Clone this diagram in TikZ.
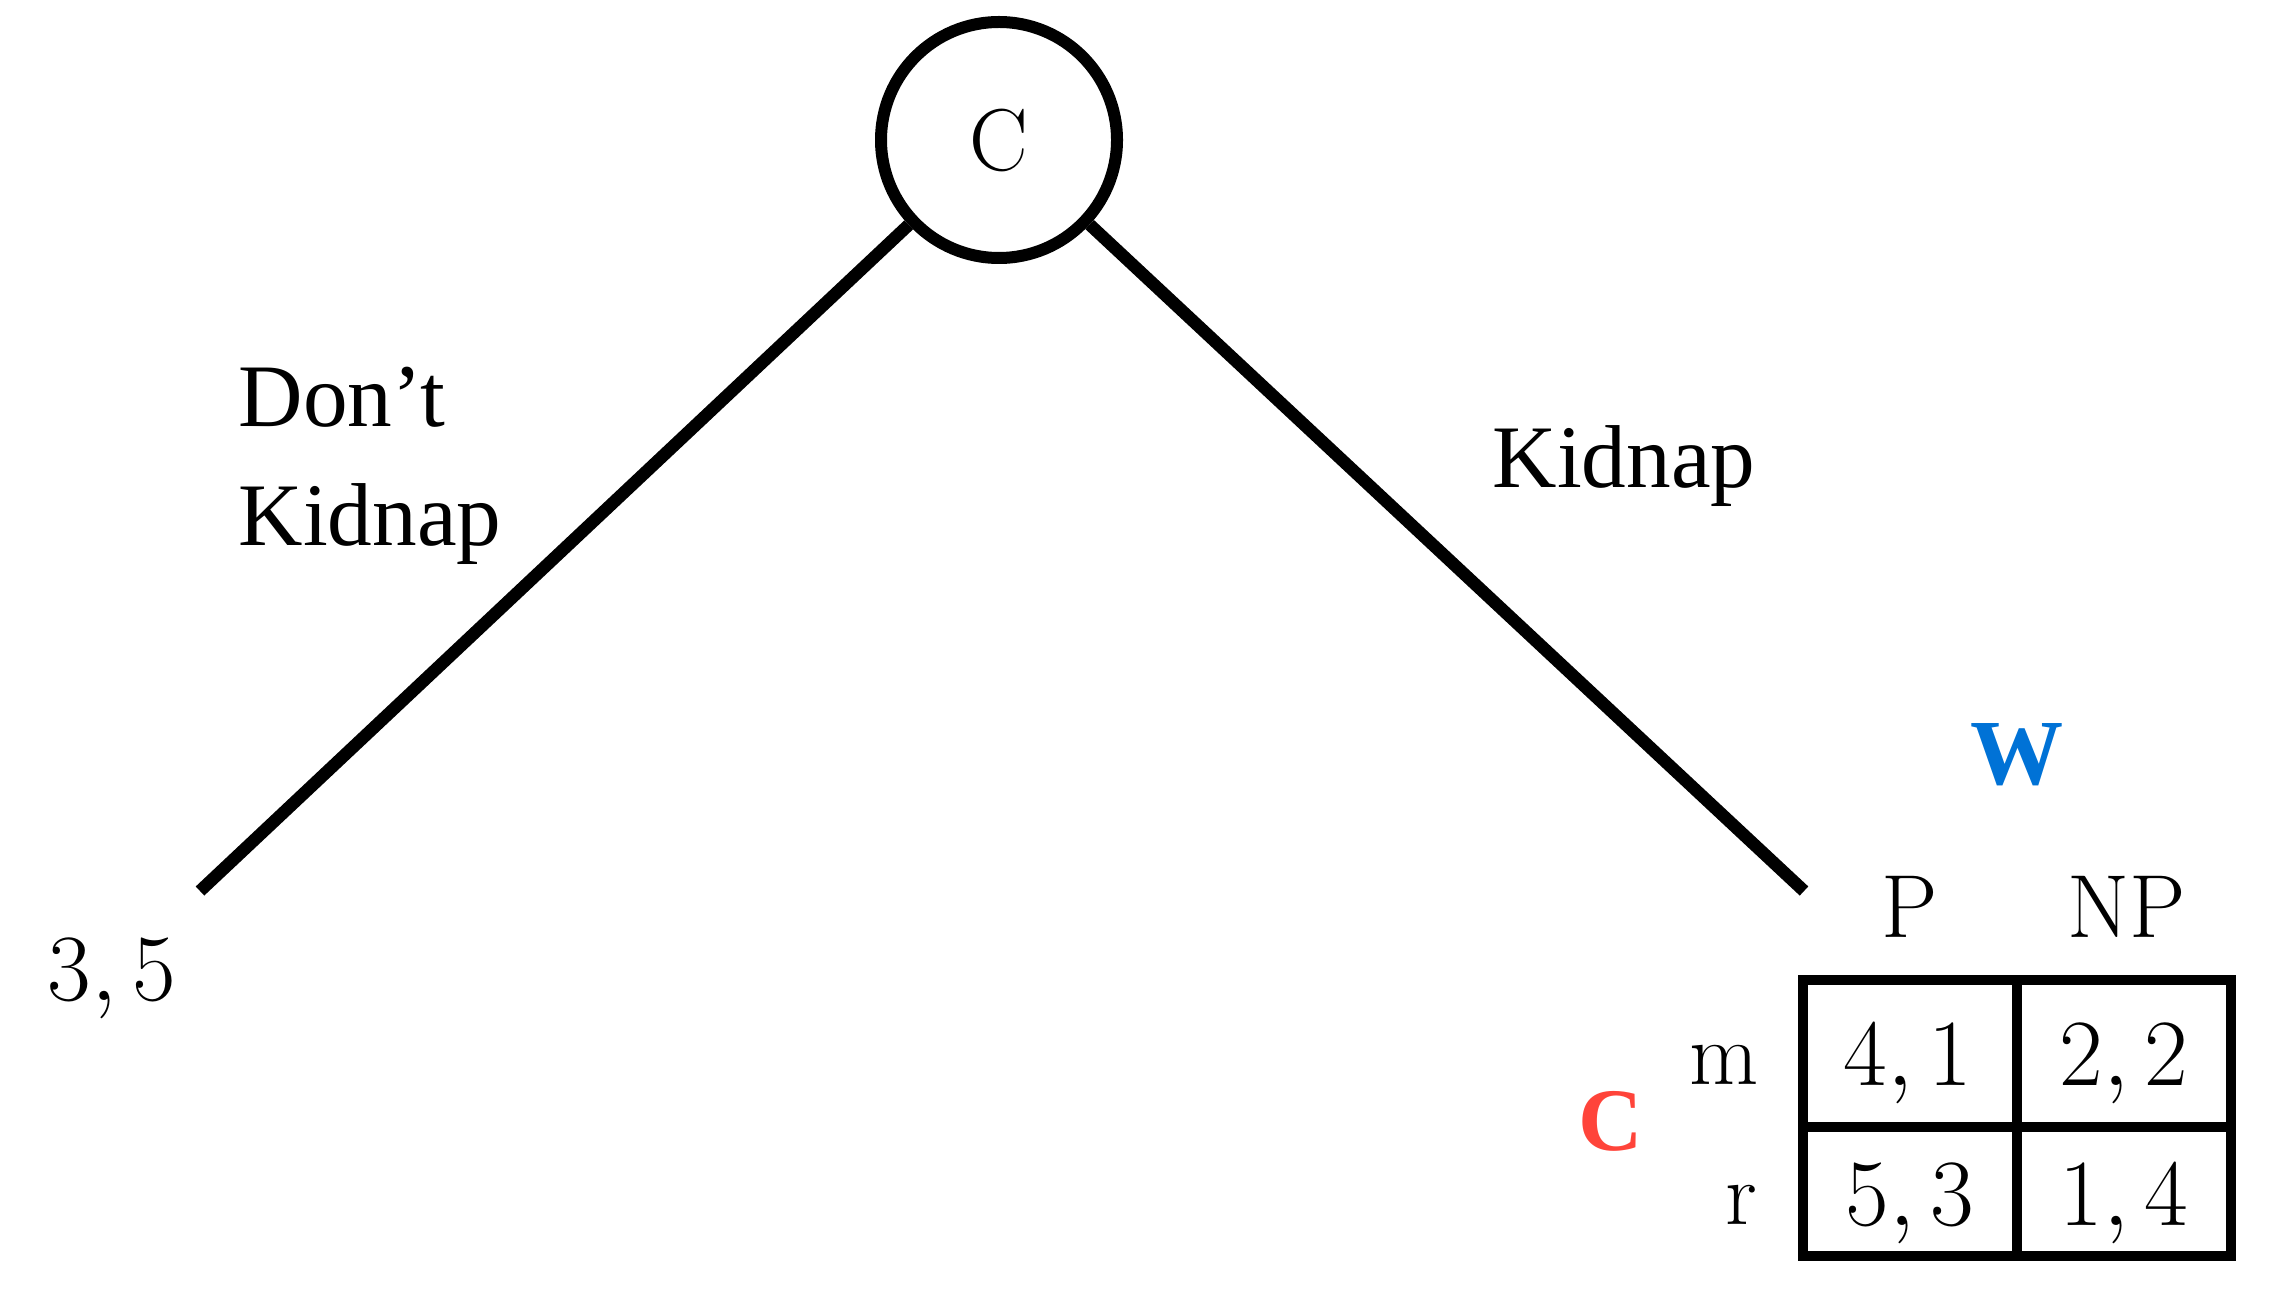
\documentclass[tikz,border=0pt]{standalone}
\usepackage{fix-cm}
\usepackage{fontspec}
\usepackage{amsmath,amssymb}
\usepackage{tikz}
\usepackage{xcolor}
\newfontfamily\labfont{Liberation Serif}
\definecolor{wblue}{RGB}{0,114,214}
\definecolor{cred}{RGB}{255,68,58}

\begin{document}
\begin{tikzpicture}[
  treeline/.style={line width=0.125cm},
  gridline/.style={line width=0.1cm},
  branchlab/.style={inner sep=0pt, font=\labfont\fontsize{25.4}{33.6}\selectfont},
  cmlab/.style={inner sep=0pt, font=\fontsize{25.5}{30}\selectfont},
  payoff/.style={inner sep=0pt, anchor=base, font=\fontsize{27}{32}\selectfont}
]
\useasboundingbox (0,0) rectangle (22.78,13.01);

% 决策节点
\node[circle, draw, line width=0.12cm, minimum size=2.36cm, inner sep=0pt, font=\fontsize{25}{30}\selectfont] (root) at (9.99,11.61) {C};
\coordinate (dk) at (2.00,4.10);
\coordinate (kn) at (18.04,4.10);

% 连线
\draw[treeline] (root) -- (dk);
\draw[treeline] (root) -- (kn);

% 分支说明
\node[branchlab, anchor=base west, align=left] (dklab) at (2.38,7.56) {Don’t\\Kidnap};
\node[branchlab, anchor=base west] (knlab) at (14.92,8.14) {Kidnap};
\node[payoff] (dkpay) at (1.12,3.01) {$3,5$};

% 支付矩阵
\node[inner sep=0pt, anchor=base, text=wblue, font=\labfont\bfseries\fontsize{26.5}{30}\selectfont] (wlab) at (20.17,5.17) {W};
\node[inner sep=0pt, anchor=base, text=cred, font=\labfont\bfseries\fontsize{25.4}{30}\selectfont] (clab) at (16.11,1.51) {C};
\node[cmlab, anchor=base] (colP) at (19.10,3.64) {P};
\node[cmlab, anchor=base] (colNP) at (21.27,3.64) {NP};
\node[cmlab, anchor=base east] (rowm) at (17.59,2.17) {m};
\node[cmlab, anchor=base east] (rowr) at (17.58,0.77) {r};

\draw[gridline] (18.03,0.45) rectangle (22.31,3.21);
\draw[gridline] (20.17,0.45) -- (20.17,3.21);
\draw[gridline] (18.03,1.74) -- (22.31,1.74);

\node[payoff] (mP) at (19.08,2.16) {$4,1$};
\node[payoff] (mNP) at (21.24,2.16) {$2,2$};
\node[payoff] (rP) at (19.10,0.76) {$5,3$};
\node[payoff] (rNP) at (21.24,0.76) {$1,4$};
\end{tikzpicture}
\end{document}
